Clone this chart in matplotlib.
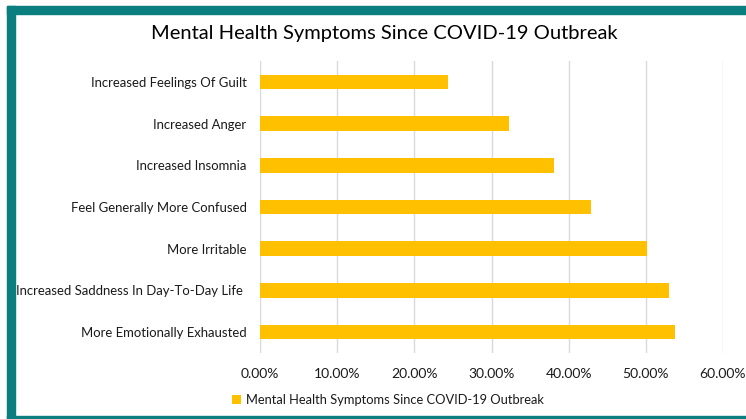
import matplotlib.pyplot as plt
from matplotlib.patches import Rectangle
from matplotlib.ticker import FuncFormatter

symptoms = [
    "More Emotionally Exhausted",
    "Increased Saddness In Day-To-Day Life ",
    "More Irritable",
    "Feel Generally More Confused",
    "Increased Insomnia",
    "Increased Anger",
    "Increased Feelings Of Guilt",
]
share = [0.538, 0.530, 0.502, 0.429, 0.381, 0.323, 0.2435]

series_name = "Mental Health Symptoms Since COVID-19 Outbreak"
gold = "#FFC000"
teal = "#0B7F7F"

plt.rcParams["font.family"] = ["Lato", "DejaVu Sans"]

fig = plt.figure(figsize=(7.46, 4.19), dpi=100)
ax = fig.add_axes([0.3489, 0.1575, 0.6199, 0.6969])

ax.barh(range(len(symptoms)), share, height=0.35, color=gold, label=series_name, zorder=3)
ax.set_yticks(range(len(symptoms)))
ax.set_yticklabels(symptoms, fontsize=9.45, color="#1A1A1A")
ax.set_ylim(-0.5, len(symptoms) - 0.5)

ax.set_xlim(0, 0.6)
ax.set_xticks([i / 10 for i in range(7)])
ax.xaxis.set_major_formatter(FuncFormatter(lambda v, p: f"{v * 100:.2f}%"))
ax.tick_params(axis="x", labelsize=10, labelcolor="#1A1A1A", length=0, pad=11)
ax.tick_params(axis="y", length=0, pad=10)
ax.grid(axis="x", color="#D9D9D9", linewidth=1, zorder=0)
for s in ax.spines.values():
    s.set_visible(False)

fig.text(0.515, 0.921, series_name, ha="center", va="center", fontsize=14.5, color="#000000")

leg = fig.legend(loc="center", bbox_to_anchor=(0.52, 0.045), frameon=False,
                 fontsize=9.3, handlelength=0.7, handleheight=0.7, handletextpad=0.4)
for t in leg.get_texts():
    t.set_color("#1A1A1A")

# teal frame around the chart
fig.patches.append(Rectangle((7 / 746, 0), 8 / 746, 1 - 6 / 419, transform=fig.transFigure,
                             color=teal, zorder=5))
fig.patches.append(Rectangle((7 / 746, 1 - 14 / 419), 1, 8 / 419, transform=fig.transFigure,
                             color=teal, zorder=5))
fig.patches.append(Rectangle((7 / 746, 0), 1, 3.5 / 419, transform=fig.transFigure,
                             color=teal, zorder=5))

fig.savefig("out.png", dpi=100)
